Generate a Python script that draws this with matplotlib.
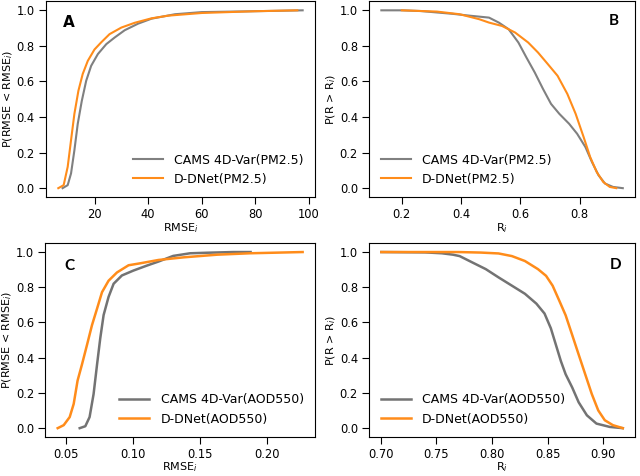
import numpy as np
import matplotlib
matplotlib.use("Agg")
import matplotlib.pyplot as plt

# panel A: RMSE_i CDF, PM2.5
a_cams_x = [8.1, 10.0, 11.25, 12.5, 13.75, 15.25, 16.9, 18.75, 21.25, 24.4, 27.5, 31.25, 36.25, 41.25, 50.0, 60.0, 80.0, 97.6]
a_cams_y = [0.0, 0.017, 0.083, 0.213, 0.362, 0.49, 0.604, 0.688, 0.754, 0.81, 0.847, 0.888, 0.925, 0.953, 0.978, 0.99, 0.995, 1.0]
a_dd_x = [6.5, 8.5, 10.0, 11.25, 12.5, 14.0, 15.6, 17.5, 20.0, 22.5, 25.6, 30.0, 35.0, 41.25, 47.5, 60.0, 80.0, 95.6]
a_dd_y = [0.0, 0.017, 0.12, 0.27, 0.418, 0.548, 0.642, 0.716, 0.78, 0.82, 0.866, 0.903, 0.93, 0.955, 0.97, 0.985, 0.995, 1.0]

# panel B: R_i exceedance, PM2.5
b_cams_x = [0.131, 0.2, 0.263, 0.373, 0.428, 0.47, 0.494, 0.527, 0.56, 0.593, 0.62, 0.648, 0.676, 0.703, 0.731, 0.764, 0.791, 0.819, 0.841, 0.863, 0.885, 0.912, 0.945]
b_cams_y = [1.0, 1.0, 0.996, 0.98, 0.97, 0.963, 0.959, 0.931, 0.894, 0.819, 0.735, 0.651, 0.558, 0.474, 0.418, 0.362, 0.306, 0.231, 0.147, 0.073, 0.026, 0.007, 0.0]
b_dd_x = [0.2, 0.318, 0.395, 0.461, 0.494, 0.538, 0.582, 0.626, 0.659, 0.692, 0.725, 0.758, 0.786, 0.813, 0.835, 0.857, 0.879, 0.901, 0.923]
b_dd_y = [1.0, 0.993, 0.978, 0.95, 0.931, 0.912, 0.875, 0.819, 0.763, 0.698, 0.632, 0.53, 0.418, 0.287, 0.175, 0.091, 0.035, 0.007, 0.0]

# panel C: RMSE_i CDF, AOD550
c_cams_x = [0.060, 0.0642, 0.0674, 0.0704, 0.073, 0.0754, 0.0779, 0.0816, 0.0854, 0.0916, 0.1003, 0.1103, 0.119, 0.130, 0.1427, 0.155, 0.175, 0.188]
c_cams_y = [0.0, 0.011, 0.063, 0.194, 0.362, 0.511, 0.642, 0.745, 0.82, 0.867, 0.895, 0.923, 0.946, 0.978, 0.993, 0.996, 1.0, 1.0]
c_dd_x = [0.0435, 0.048, 0.0525, 0.0555, 0.0584, 0.0617, 0.0655, 0.0692, 0.073, 0.0767, 0.0816, 0.0879, 0.0966, 0.1053, 0.119, 0.138, 0.163, 0.1875, 0.227]
c_dd_y = [0.0, 0.017, 0.063, 0.138, 0.27, 0.362, 0.474, 0.585, 0.679, 0.772, 0.837, 0.884, 0.925, 0.936, 0.955, 0.97, 0.985, 0.993, 1.0]

# panel D: R_i exceedance, AOD550
d_cams_x = [0.7006, 0.74, 0.755, 0.765, 0.771, 0.7827, 0.7945, 0.806, 0.818, 0.8297, 0.840, 0.8473, 0.853, 0.8575, 0.862, 0.8663, 0.8722, 0.878, 0.8854, 0.894, 0.906, 0.9177]
d_cams_y = [1.0, 0.998, 0.993, 0.985, 0.977, 0.94, 0.903, 0.856, 0.809, 0.763, 0.707, 0.651, 0.567, 0.474, 0.381, 0.306, 0.231, 0.147, 0.073, 0.026, 0.007, 0.0]
d_dd_x = [0.7006, 0.77, 0.79, 0.806, 0.818, 0.8297, 0.8414, 0.8487, 0.8546, 0.8605, 0.8663, 0.8722, 0.878, 0.8839, 0.8898, 0.8956, 0.9015, 0.9088, 0.9177]
d_dd_y = [1.0, 1.0, 0.997, 0.992, 0.977, 0.949, 0.903, 0.865, 0.809, 0.725, 0.641, 0.529, 0.418, 0.306, 0.194, 0.101, 0.045, 0.017, 0.0]

gray = "#808080"
orange = "#ff8c1a"
fs = 8

fig = plt.figure(figsize=(6.4, 4.76), dpi=100)
axA = fig.add_axes([0.072, 0.586, 0.42, 0.411])
axB = fig.add_axes([0.577, 0.586, 0.415, 0.411])
axC = fig.add_axes([0.071, 0.082, 0.421, 0.407])
axD = fig.add_axes([0.577, 0.082, 0.415, 0.407])

panels = [
    (axA, a_cams_x, a_cams_y, a_dd_x, a_dd_y, "PM2.5", "RMSE$_i$", "P(RMSE < RMSE$_i$)", "lower right", gray, 1.5),
    (axB, b_cams_x, b_cams_y, b_dd_x, b_dd_y, "PM2.5", "R$_i$", "P(R > R$_i$)", "lower left", gray, 1.5),
    (axC, c_cams_x, c_cams_y, c_dd_x, c_dd_y, "AOD550", "RMSE$_i$", "P(RMSE < RMSE$_i$)", "lower right", "#737373", 1.8),
    (axD, d_cams_x, d_cams_y, d_dd_x, d_dd_y, "AOD550", "R$_i$", "P(R > R$_i$)", "lower left", "#737373", 1.8),
]

for ax, cx, cy, dx, dy, var, xl, yl, loc, gcol, lw in panels:
    ax.plot(cx, cy, color=gcol, lw=lw, label="CAMS 4D-Var(" + var + ")")
    ax.plot(dx, dy, color=orange, lw=lw, label="D-DNet(" + var + ")")
    ax.set_xlabel(xl, fontsize=fs, labelpad=0)
    ax.set_ylabel(yl, fontsize=fs, labelpad=1)
    ax.tick_params(labelsize=8.3, length=5.2, pad=3)
    ax.tick_params(axis="x", pad=2.5)
    ax.set_yticks([0.0, 0.2, 0.4, 0.6, 0.8, 1.0])
    ax.legend(loc=loc, frameon=False, fontsize=9, handlelength=2.4, handletextpad=0.9)

axA.text(0.064, 0.894, "A", transform=axA.transAxes, fontsize=11, fontweight="bold", va="center")
axB.text(0.94, 0.9, "B", transform=axB.transAxes, fontsize=11, fontweight="bold", va="center", ha="right", family="Lato")
axC.text(0.071, 0.885, "C", transform=axC.transAxes, fontsize=11, fontweight="bold", va="center", family="Lato")
axD.text(0.95, 0.89, "D", transform=axD.transAxes, fontsize=11, fontweight="bold", va="center", ha="right", family="Lato")

axC.set_xticks([0.05, 0.10, 0.15, 0.20])
axD.set_xticks([0.70, 0.75, 0.80, 0.85, 0.90])

fig.savefig("out.png", dpi=100)
